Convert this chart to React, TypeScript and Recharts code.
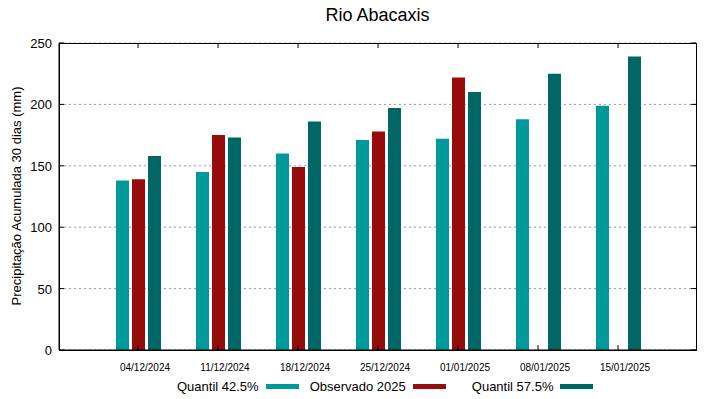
import React from 'react';
import { BarChart, Bar, XAxis, YAxis, CartesianGrid } from 'recharts';

const datas = ['04/12/2024', '11/12/2024', '18/12/2024', '25/12/2024', '01/01/2025', '08/01/2025', '15/01/2025'];
const quantil425 = [138, 145, 160, 171, 172, 188, 199];
const observado2025 = [139, 175, 149, 178, 222, null, null];
const quantil575 = [158, 173, 186, 197, 210, 225, 239];
const yTicks = [0, 50, 100, 150, 200, 250];

const data = datas.map((d, i) => ({
  name: d,
  q425: quantil425[i],
  obs: observado2025[i],
  q575: quantil575[i],
}));

const series = [
  { key: 'q425', label: 'Quantil 42.5%', color: '#009999' },
  { key: 'obs', label: 'Observado 2025', color: '#990c0c' },
  { key: 'q575', label: 'Quantil 57.5%', color: '#006666' },
];

const font = '"Liberation Sans", Arial, sans-serif';
const plot = { left: 59, top: 43, right: 696, bottom: 350 };

const YTick = (props: any) => {
  const { y, payload } = props;
  return (
    <g>
      <line x1={plot.left} x2={plot.left + 5} y1={y} y2={y} stroke="#000" />
      <line x1={plot.right - 5} x2={plot.right} y1={y} y2={y} stroke="#000" />
      <text x={52} y={y} dy={5} textAnchor="end" fontSize={13} fill="#000" fontFamily={font}>
        {payload.value}
      </text>
    </g>
  );
};

const XTick = (props: any) => {
  const { x, payload } = props;
  return (
    <g>
      <line x1={x} x2={x} y1={plot.bottom} y2={plot.bottom - 5} stroke="#000" />
      <line x1={x} x2={x} y1={plot.top} y2={plot.top + 5} stroke="#000" />
      <text x={x + 7} y={plot.bottom + 21} textAnchor="middle" fontSize={10} fill="#000" fontFamily={font}>
        {payload.value}
      </text>
    </g>
  );
};

export default function App() {
  return (
    <div style={{ position: 'relative', width: 719, height: 399, background: '#fff' }}>
      <style>{`body{margin:0}`}</style>
      <div style={{ position: 'absolute', left: 59, width: 637, top: 5, textAlign: 'center', fontFamily: font, fontSize: 18 }}>
        Rio Abacaxis
      </div>
      <div
        style={{
          position: 'absolute',
          left: 16,
          top: 196,
          transform: 'translate(-50%, -50%) rotate(-90deg)',
          whiteSpace: 'nowrap',
          fontFamily: font,
          fontSize: 13,
        }}
      >
        Precipitação Acumulada 30 dias (mm)
      </div>
      <BarChart
        width={719}
        height={399}
        data={data}
        margin={{ top: 43, right: 23, bottom: 0, left: 9 }}
        barSize={13}
        barGap={3}
      >
        <CartesianGrid vertical={false} stroke="#999" strokeDasharray="2 3" />
        <XAxis
          dataKey="name"
          height={49}
          padding={{ left: 39, right: 38 }}
          axisLine={{ stroke: '#000' }}
          tickLine={false}
          tick={<XTick />}
          interval={0}
        />
        <YAxis
          domain={[0, 250]}
          ticks={yTicks}
          width={50}
          axisLine={{ stroke: '#000' }}
          tickLine={false}
          tick={<YTick />}
          interval={0}
        />
        {series.map((s) => (
          <Bar key={s.key} dataKey={s.key} fill={s.color} isAnimationActive={false} />
        ))}
      </BarChart>
      <div
        style={{
          position: 'absolute',
          left: plot.left,
          top: plot.top,
          width: plot.right - plot.left - 1,
          height: plot.bottom - plot.top - 1,
          border: '1px solid #000',
          pointerEvents: 'none',
        }}
      />
      <div
        style={{
          position: 'absolute',
          top: 379,
          left: 177,
          display: 'flex',
          alignItems: 'center',
          fontFamily: font,
          fontSize: 13,
          color: '#000',
        }}
      >
        {series.map((s, i) => (
          <div key={s.key} style={{ display: 'flex', alignItems: 'center', marginLeft: [0, 11, 26][i] }}>
            <span>{s.label}</span>
            <span style={{ display: 'inline-block', width: 33, height: 5, background: s.color, marginLeft: 7 }} />
          </div>
        ))}
      </div>
    </div>
  );
}
